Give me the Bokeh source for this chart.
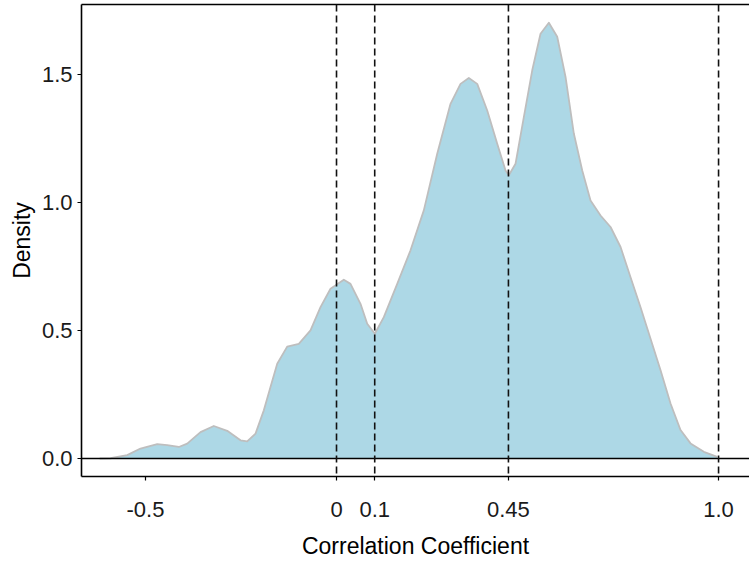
from bokeh.plotting import figure
from bokeh.models import Range1d, FixedTicker, Span, LinearAxis
from bokeh.embed import file_html
from bokeh.resources import INLINE

# Density curve of correlation coefficients
corr_x = [-0.620, -0.5916, -0.5479, -0.5131, -0.4694, -0.4432, -0.4128, -0.3908,
          -0.3560, -0.3212, -0.2861, -0.2513, -0.2338, -0.2120, -0.1903, -0.1728,
          -0.1552, -0.1291, -0.0987, -0.0681, -0.0419, -0.0157, 0.0191, 0.0366,
          0.0628, 0.0804, 0.1003, 0.1238, 0.1589, 0.1937, 0.2285, 0.2636, 0.2984,
          0.3246, 0.3463, 0.3683, 0.3945, 0.4207, 0.4424, 0.4511, 0.4686, 0.4903,
          0.5123, 0.5340, 0.5558, 0.5777, 0.5995, 0.6212, 0.6432, 0.6649, 0.6911,
          0.7173, 0.7435, 0.7696, 0.7958, 0.8220, 0.8482, 0.8743, 0.9005, 0.9267,
          0.9615, 0.9966]
density = [0.000, 0.001, 0.013, 0.039, 0.056, 0.052, 0.045, 0.058,
           0.103, 0.127, 0.108, 0.071, 0.067, 0.097, 0.188, 0.279,
           0.370, 0.437, 0.448, 0.500, 0.591, 0.663, 0.698, 0.682,
           0.604, 0.526, 0.487, 0.552, 0.682, 0.813, 0.969, 1.190, 1.385,
           1.463, 1.486, 1.463, 1.359, 1.229, 1.125, 1.106, 1.151, 1.333,
           1.516, 1.659, 1.702, 1.647, 1.490, 1.269, 1.125, 1.008, 0.949,
           0.904, 0.826, 0.708, 0.591, 0.468, 0.345, 0.215, 0.111, 0.059,
           0.026, 0.006]

cutoffs = [0.0, 0.1, 0.45, 1.0]
x_ticks = [-0.5, 0.0, 0.1, 0.45, 1.0]
x_tick_labels = ["-0.5", "0", "0.1", "0.45", "1.0"]
y_ticks = [0.0, 0.5, 1.0, 1.5]
y_tick_labels = ["0.0", "0.5", "1.0", "1.5"]

FONT = "Liberation Sans"

p = figure(width=749, height=562, output_backend="svg", toolbar_location=None,
           x_range=Range1d(-0.6675, 1.081), y_range=Range1d(-0.0703, 1.773),
           min_border_left=81, min_border_right=0, min_border_top=4,
           min_border_bottom=86)
p.outline_line_color = None
p.grid.visible = False
p.background_fill_color = "white"

p.varea(x=corr_x, y1=0, y2=density, fill_color="#ADD8E6")
p.line(x=corr_x, y=density, line_color="#BEBEBE", line_width=1.8,
       line_join="round")

p.add_layout(Span(location=0, dimension="width", line_color="black", line_width=1.6))
for c in cutoffs:
    p.add_layout(Span(location=c, dimension="height", line_color="#111111",
                      line_width=1.6, line_dash="7 4"))

# axes
xa = p.xaxis[0]
xa.ticker = FixedTicker(ticks=x_ticks)
xa.major_label_overrides = {t: l for t, l in zip(x_ticks, x_tick_labels)}
ya = p.yaxis[0]
ya.ticker = FixedTicker(ticks=y_ticks)
ya.major_label_overrides = {t: l for t, l in zip(y_ticks, y_tick_labels)}

for ax in (xa, ya):
    ax.axis_line_color = "black"
    ax.axis_line_width = 1.6
    ax.major_tick_line_color = "black"
    ax.major_tick_line_width = 1.2
    ax.major_tick_out = 4
    ax.major_tick_in = 0
    ax.minor_tick_line_color = None
    ax.major_label_text_font = FONT
    ax.major_label_text_font_size = "22px"
    ax.major_label_text_color = "#1a1a1a"
    ax.axis_label_text_font = FONT
    ax.axis_label_text_font_size = "23px"
    ax.axis_label_text_font_style = "normal"
    ax.axis_label_text_color = "black"

xa.axis_label = "Correlation Coefficient"
xa.major_label_standoff = 21
xa.axis_label_standoff = 13
ya.axis_label = "Density"
ya.major_label_standoff = 5
ya.axis_label_standoff = 4

top = LinearAxis(ticker=FixedTicker(ticks=[]), major_tick_line_color=None,
                 minor_tick_line_color=None, axis_line_color="black",
                 axis_line_width=1.6)
p.add_layout(top, "above")

open("out.html", "w").write(file_html(p, INLINE))
